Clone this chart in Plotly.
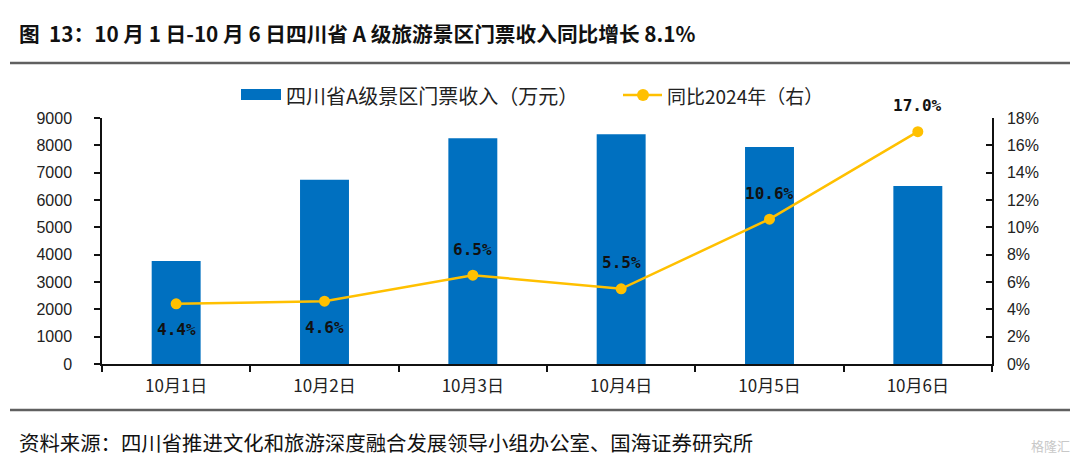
import plotly.graph_objects as go

categories = ["10月1日", "10月2日", "10月3日", "10月4日", "10月5日", "10月6日"]
revenue = [3770, 6740, 8260, 8410, 7940, 6510]
yoy = [4.4, 4.6, 6.5, 5.5, 10.6, 17.0]
yoy_labels = ["4.4%", "4.6%", "6.5%", "5.5%", "10.6%", "17.0%"]
label_side = [-1, -1, 1, 1, 1, 1]
left_ticks = [0, 1000, 2000, 3000, 4000, 5000, 6000, 7000, 8000, 9000]
right_ticks = [0, 2, 4, 6, 8, 10, 12, 14, 16, 18]

OFF = 8  # page body margin
W, H = 1064, 453
L, R, T, B = 102 - OFF, 992 - OFF, 118 - OFF, 364 - OFF

def px(x):  # reference-screen x -> paper
    return (x - OFF - L) / (R - L)

def py(y):  # reference-screen y -> paper
    return (B - (y - OFF)) / (B - T)

CJK = "Noto Sans CJK SC"
BLUE = "#0070C0"
GOLD = "#FFC000"

fig = go.Figure()
fig.add_trace(go.Bar(
    x=categories, y=revenue, name="四川省A级景区门票收入（万元）",
    marker=dict(color=BLUE, line=dict(width=0)), width=0.33, yaxis="y",
))
fig.add_trace(go.Scatter(
    x=categories, y=yoy, name="同比2024年（右）", yaxis="y2",
    mode="lines+markers",
    line=dict(color=GOLD, width=2.5),
    marker=dict(color=GOLD, size=11),
    cliponaxis=False,
))

for c, v, t, s in zip(categories, yoy, yoy_labels, label_side):
    fig.add_annotation(x=c, y=v, xref="x", yref="y2", text=t, showarrow=False,
                       yshift=26 * s, font=dict(family="DejaVu Sans Mono", size=16,
                                                color="#111111", weight="bold"))

fig.update_layout(
    width=W, height=H,
    margin=dict(l=L, r=W - R, t=T, b=H - B, pad=0, autoexpand=False),
    paper_bgcolor="white", plot_bgcolor="white",
    font=dict(family="Liberation Sans, " + CJK, color="#222222"),
    showlegend=False,
    bargap=0.5,
    xaxis=dict(
        type="category", showline=True, linecolor="#111111", linewidth=1.5,
        ticks="outside", ticklen=6, tickcolor="#111111", tickwidth=1.5,
        tickson="boundaries", showgrid=False, automargin=False,
        tickfont=dict(family=CJK, size=17, color="#222222"),
        ticklabelstandoff=6,
    ),
    yaxis=dict(
        range=[0, 9000], tickvals=left_ticks, showline=True, linecolor="#111111", linewidth=1.5,
        ticks="outside", ticklen=6, tickcolor="#111111", tickwidth=1.5, showgrid=False,
        zeroline=False, automargin=False,
        tickfont=dict(family="Liberation Sans", size=16, color="#222222"),
        ticklabelstandoff=19,
    ),
    yaxis2=dict(
        range=[0, 18], tickvals=right_ticks, ticktext=[f"{v}%" for v in right_ticks],
        overlaying="y", side="right", showline=True, linecolor="#111111", linewidth=1.5,
        ticks="inside", ticklen=6, tickcolor="#111111", tickwidth=1.5, showgrid=False,
        zeroline=False, automargin=False,
        tickfont=dict(family="Liberation Sans", size=16, color="#222222"),
        ticklabelstandoff=10,
    ),
)

# manual legend
fig.add_shape(type="rect", xref="paper", yref="paper", x0=px(241), x1=px(281),
              y0=py(100), y1=py(89), fillcolor=BLUE, line=dict(width=0))
fig.add_annotation(xref="paper", yref="paper", x=px(284), y=py(95), xanchor="left",
                   yanchor="middle", text="四川省A级景区门票收入（万元）", showarrow=False,
                   font=dict(family=CJK, size=20, color="#222222"))
fig.add_shape(type="line", xref="paper", yref="paper", x0=px(623), x1=px(662),
              y0=py(95), y1=py(95), line=dict(color=GOLD, width=2.5))
fig.add_shape(type="circle", xref="paper", yref="paper", x0=px(637), x1=px(649),
              y0=py(101), y1=py(89), fillcolor=GOLD, line=dict(width=0))
fig.add_annotation(xref="paper", yref="paper", x=px(665), y=py(95), xanchor="left",
                   yanchor="middle", text="同比2024年（右）", showarrow=False,
                   font=dict(family=CJK, size=19, color="#222222"))

fig.add_annotation(
    xref="paper", yref="paper", x=px(17), y=py(33), xanchor="left", yanchor="middle",
    text="<b>图  13：10 月 1 日-10 月 6 日四川省 A 级旅游景区门票收入同比增长 8.1%</b>",
    showarrow=False, font=dict(family=CJK, size=20.7, color="#111111"),
)
fig.add_annotation(
    xref="paper", yref="paper", x=px(17), y=py(442), xanchor="left", yanchor="middle",
    text="资料来源：四川省推进文化和旅游深度融合发展领导小组办公室、国海证券研究所",
    showarrow=False, font=dict(family=CJK, size=20.4, color="#111111"),
)
fig.add_annotation(
    xref="paper", yref="paper", x=px(1072), y=py(445), xanchor="right", yanchor="middle",
    text="格隆汇", showarrow=False, font=dict(family=CJK, size=13, color="#c8c8c8"),
)
for yy in (63, 410):
    fig.add_shape(type="line", xref="paper", yref="paper",
                  x0=px(10), x1=px(1070), y0=py(yy), y1=py(yy),
                  line=dict(color="#606060", width=2.5))

fig.write_html("out.html")
